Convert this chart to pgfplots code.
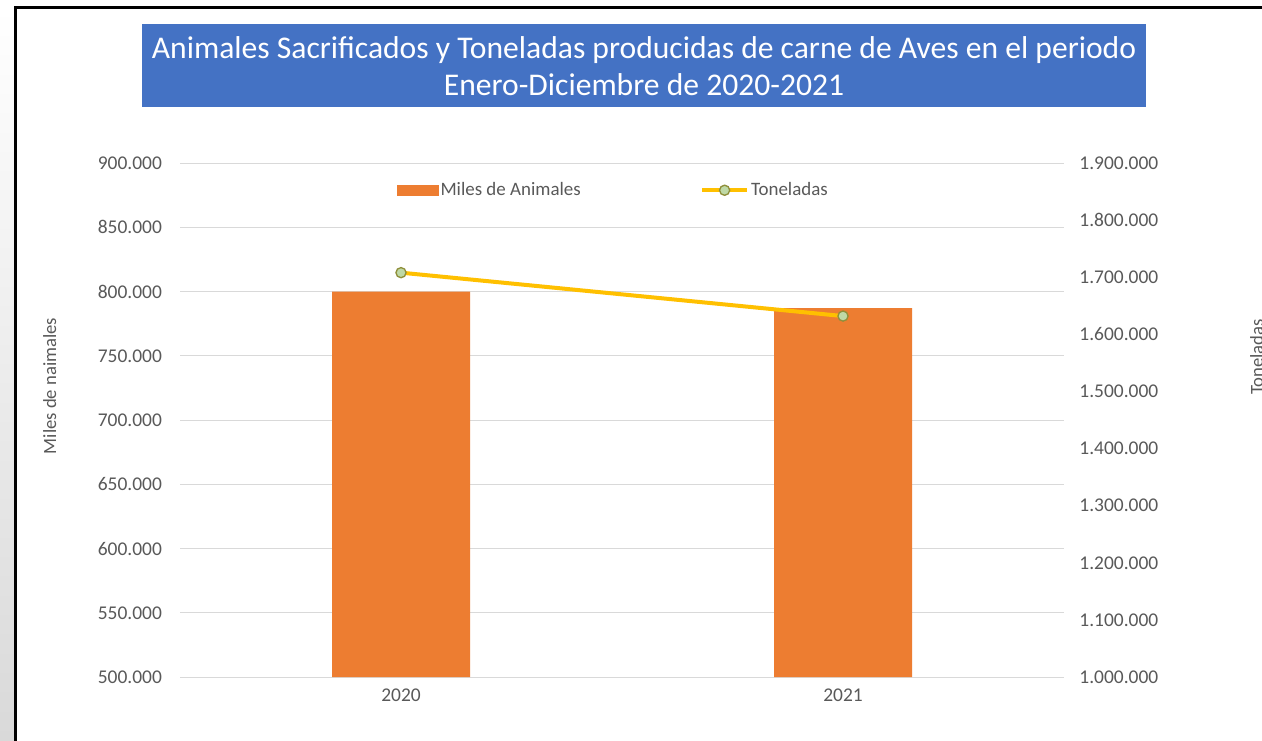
\documentclass[border=0pt]{standalone}
\usepackage{pgfplots}
\pgfplotsset{compat=1.18}
\usepackage{fontspec}
\setmainfont{Carlito}
\definecolor{barorange}{HTML}{ED7D31}
\definecolor{gold}{HTML}{FFC000}
\definecolor{gridgray}{HTML}{D9D9D9}
\definecolor{labelgray}{HTML}{595959}
\definecolor{titleblue}{HTML}{4472C4}
\definecolor{markgreen}{HTML}{BFD9A6}
\definecolor{markedge}{HTML}{8F8F3A}
\definecolor{stripgray}{HTML}{D9D9D9}
\begin{document}
\begin{tikzpicture}
\useasboundingbox (0,0) rectangle (946.5pt,-555pt);
\clip (0,0) rectangle (946.5pt,-555pt);
\fill[white] (0,0) rectangle (946.5pt,-555pt);
\shade[top color=white, bottom color=stripgray] (0,-5pt) rectangle (10.5pt,-555pt);
\draw[black, line width=2.4pt] (11.6pt,-560pt) -- (11.6pt,-5.6pt) -- (950pt,-5.6pt);
% title
\fill[titleblue] (106.5pt,-18pt) rectangle (859.5pt,-80.25pt);
\node[text=white, align=center, font=\fontsize{23.7}{27.75}\selectfont] at (483pt,-49.5pt)
  {Animales Sacrificados y Toneladas producidas de carne de Aves en el periodo\\Enero-Diciembre de 2020-2021};
% axis labels
\node[rotate=90, anchor=base, text=labelgray, font=\fontsize{14}{16}\selectfont] at (42pt,-289.5pt) {Miles de naimales};
\node[rotate=90, anchor=base, text=labelgray, font=\fontsize{14}{16}\selectfont] at (947.25pt,-267.75pt) {Toneladas};
\begin{axis}[
  at={(135pt,-507.75pt)}, anchor=south west,
  scale only axis, width=663pt, height=385.5pt,
  xmin=-0.5, xmax=1.5, ymin=500000, ymax=900000,
  ytick distance=50000, xtick={0,1}, xticklabels={2020,2021},
  scaled y ticks=false,
  /pgf/number format/assume math mode=true,
  /pgf/number format/fixed, /pgf/number format/1000 sep={.}, /pgf/number format/precision=0,
  ymajorgrids, grid style={color=gridgray, line width=0.75pt},
  axis line style={draw=none}, major tick length=0pt,
  tick label style={font=\fontsize{14.6}{16}\selectfont, text=labelgray},
  yticklabel style={xshift=-10pt},
  xticklabel style={yshift=-5pt},
  ybar, bar width=103.5pt,
]
\addplot[fill=barorange, draw=none] coordinates {(0,800000) (1,787000)};
\end{axis}
\begin{axis}[
  at={(135pt,-507.75pt)}, anchor=south west,
  scale only axis, width=663pt, height=385.5pt,
  xmin=-0.5, xmax=1.5, ymin=1000000, ymax=1900000,
  ytick distance=100000,
  axis y line*=right, axis x line=none,
  scaled y ticks=false,
  /pgf/number format/assume math mode=true,
  /pgf/number format/fixed, /pgf/number format/1000 sep={.}, /pgf/number format/precision=0,
  axis line style={draw=none}, major tick length=0pt,
  tick label style={font=\fontsize{14.6}{16}\selectfont, text=labelgray},
  yticklabel style={xshift=8pt},
  legend columns=2,
  legend style={at={(0.49,0.947)}, anchor=center, draw=none, fill=none,
    font=\fontsize{14.2}{16}\selectfont, text=labelgray,
    /tikz/every even column/.append style={column sep=88pt},
    nodes={inner sep=1.5pt}},
]
\addlegendimage{fill=barorange, draw=none, legend image code/.code={\fill[barorange] (0pt,-4.1pt) rectangle (31.5pt,4.1pt);}}
\addlegendentry{Miles de Animales}
\addplot[color=gold, line width=3pt, mark=*, mark size=3.8pt,
  mark options={fill=markgreen, draw=markedge, line width=1pt},
  legend image code/.code={\draw[mark repeat=2,mark phase=2] plot coordinates {(0pt,0pt) (16.9pt,0pt) (33.75pt,0pt)};}]
  coordinates {(0,1708000) (1,1632000)};
\addlegendentry{Toneladas}
\end{axis}
\end{tikzpicture}
\end{document}
